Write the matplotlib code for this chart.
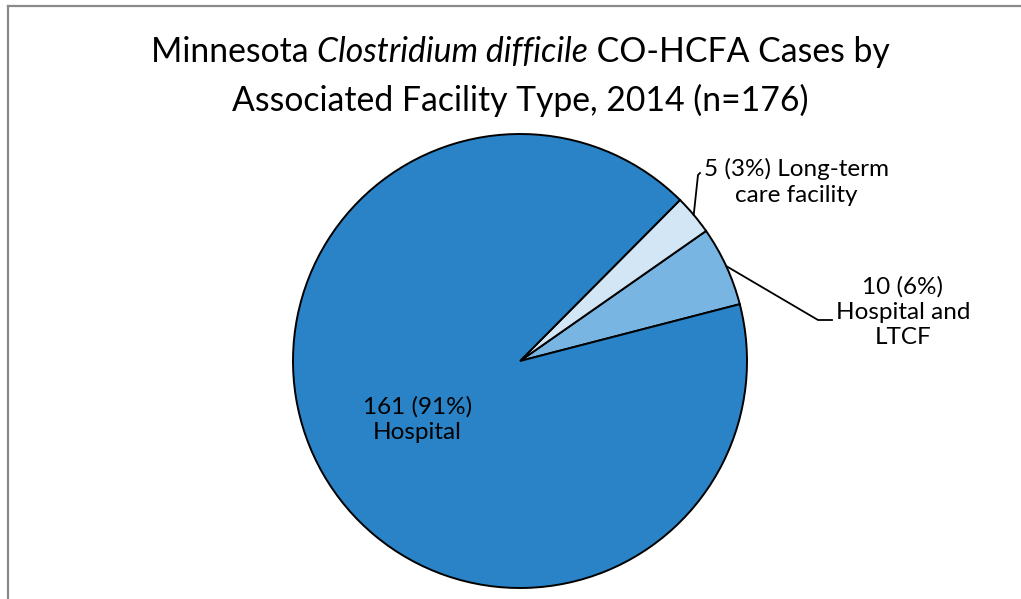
import numpy as np
import matplotlib
matplotlib.use('Agg')
import matplotlib.pyplot as plt
from matplotlib.lines import Line2D

plt.rcParams['font.family'] = ['Lato', 'DejaVu Sans']

# data
categories = ['Hospital and LTCF', 'Long-term care facility', 'Hospital']
counts = [10, 5, 161]
label_texts = ['10 (6%)\nHospital and\nLTCF', '5 (3%) Long-term\ncare facility', '161 (91%)\nHospital']
colors = ['#79B5E2', '#D3E6F5', '#2983C6']

W, H = 1021, 599
fig = plt.figure(figsize=(W / 100, H / 100), dpi=100)
ax = fig.add_axes([0, 0, 1, 1])

cx, cy, r = 520, H - 361, 227
start = 14.5
wedges, _ = ax.pie(counts, colors=colors, startangle=start, counterclock=True,
                   center=(cx, cy), radius=r, frame=True,
                   wedgeprops=dict(edgecolor='black', linewidth=1.4))
ax.set_xlim(0, W)
ax.set_ylim(0, H)
ax.set_aspect('equal')
ax.axis('off')

fs = 17.5
ls = 1.25
# Hospital label inside the slice
mid = np.deg2rad((wedges[2].theta1 + wedges[2].theta2) / 2)
ax.text(cx + 0.52 * r * np.cos(mid), cy + 0.52 * r * np.sin(mid), label_texts[2],
        ha='center', va='center', fontsize=fs, linespacing=ls)

# Hospital and LTCF label with leader
mid = np.deg2rad((wedges[0].theta1 + wedges[0].theta2) / 2)
px, py = cx + r * np.cos(mid), cy + r * np.sin(mid)
ax.plot([px, 818, 832], [py, H - 320, H - 320], color='black', lw=1.3)
ax.text(903, H - 312, label_texts[0], ha='center', va='center', fontsize=fs, linespacing=ls)

# Long-term care label with leader
mid = np.deg2rad((wedges[1].theta1 + wedges[1].theta2) / 2)
px, py = cx + r * np.cos(mid), cy + r * np.sin(mid)
ax.plot([px, 698, 700], [py, H - 175, H - 173], color='black', lw=1.3)
ax.text(796, H - 182, label_texts[1], ha='center', va='center', fontsize=fs, linespacing=ls)

# title with italic part, composed piece by piece
tfs = 24.3
pieces = [('Minnesota ', 'normal'), ('Clostridium difficile', 'italic'),
          (' CO-HCFA Cases by', 'normal')]
renderer = fig.canvas.get_renderer()
objs = []
for s, st in pieces:
    t = fig.text(0, 0, s, fontsize=tfs, style=st, ha='left', va='center')
    objs.append(t)
widths = [o.get_window_extent(renderer).width for o in objs]
x0 = 520 - sum(widths) / 2
for o, w in zip(objs, widths):
    o.set_position((x0 / W, 1 - 52 / H))
    x0 += w
fig.text(520 / W, 1 - 100 / H, 'Associated Facility Type, 2014 (n=176)', fontsize=tfs,
         ha='center', va='center')

# chart area border (top and left visible)
fig.add_artist(Line2D([8 / W, 8 / W], [0, 1 - 6 / H], color='#8A8A8A', lw=1.6))
fig.add_artist(Line2D([8 / W, 1], [1 - 6 / H, 1 - 6 / H], color='#8A8A8A', lw=1.6))

fig.savefig('out.png', dpi=100)
